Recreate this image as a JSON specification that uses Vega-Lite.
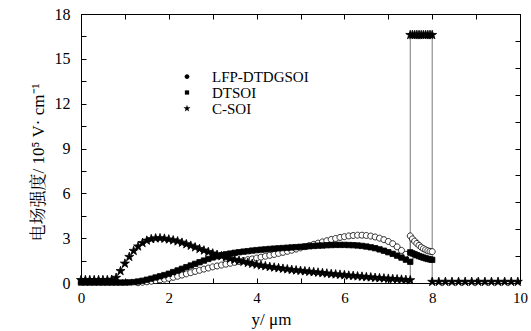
{
 "$schema": "https://vega.github.io/schema/vega-lite/v6.json",
 "width": 439, "height": 269,
 "autosize": {"type": "none"},
 "padding": {"left": 81, "top": 14, "right": 11, "bottom": 48},
 "background": "white",
 "config": {
  "font": "Liberation Serif, Times New Roman, DejaVu Serif, serif",
  "view": {"stroke": "black", "strokeWidth": 1},
  "axis": {"grid": false, "domainColor": "black", "domainWidth": 1, "tickColor": "black", "tickWidth": 1, "labelColor": "black", "titleColor": "black", "labelFont": "Liberation Serif, Times New Roman, DejaVu Serif, serif", "titleFont": "Liberation Serif, Times New Roman, Noto Serif CJK SC, Noto Sans CJK SC, serif", "titleFontWeight": "normal", "labelOverlap": false, "labelFlush": false},
  "legend": {"labelFont": "Liberation Serif, Times New Roman, DejaVu Serif, serif"}
 },
 "data": {"values": [
  {"s":"LFP-DTDGSOI","x":1.3,"y":0.02},{"s":"LFP-DTDGSOI","x":1.4,"y":0.05},{"s":"LFP-DTDGSOI","x":1.5,"y":0.08},{"s":"LFP-DTDGSOI","x":1.6,"y":0.12},{"s":"LFP-DTDGSOI","x":1.7,"y":0.16},{"s":"LFP-DTDGSOI","x":1.8,"y":0.21},{"s":"LFP-DTDGSOI","x":1.9,"y":0.26},{"s":"LFP-DTDGSOI","x":2.0,"y":0.31},{"s":"LFP-DTDGSOI","x":2.1,"y":0.38},{"s":"LFP-DTDGSOI","x":2.2,"y":0.45},{"s":"LFP-DTDGSOI","x":2.3,"y":0.53},{"s":"LFP-DTDGSOI","x":2.4,"y":0.61},{"s":"LFP-DTDGSOI","x":2.5,"y":0.69},{"s":"LFP-DTDGSOI","x":2.6,"y":0.77},{"s":"LFP-DTDGSOI","x":2.7,"y":0.85},{"s":"LFP-DTDGSOI","x":2.8,"y":0.93},{"s":"LFP-DTDGSOI","x":2.9,"y":1.0},{"s":"LFP-DTDGSOI","x":3.0,"y":1.08},{"s":"LFP-DTDGSOI","x":3.1,"y":1.14},{"s":"LFP-DTDGSOI","x":3.2,"y":1.2},{"s":"LFP-DTDGSOI","x":3.3,"y":1.26},{"s":"LFP-DTDGSOI","x":3.4,"y":1.32},{"s":"LFP-DTDGSOI","x":3.5,"y":1.38},{"s":"LFP-DTDGSOI","x":3.6,"y":1.44},{"s":"LFP-DTDGSOI","x":3.7,"y":1.5},{"s":"LFP-DTDGSOI","x":3.8,"y":1.56},{"s":"LFP-DTDGSOI","x":3.9,"y":1.61},{"s":"LFP-DTDGSOI","x":4.0,"y":1.67},{"s":"LFP-DTDGSOI","x":4.1,"y":1.73},{"s":"LFP-DTDGSOI","x":4.2,"y":1.79},{"s":"LFP-DTDGSOI","x":4.3,"y":1.85},{"s":"LFP-DTDGSOI","x":4.4,"y":1.91},{"s":"LFP-DTDGSOI","x":4.5,"y":1.98},{"s":"LFP-DTDGSOI","x":4.6,"y":2.05},{"s":"LFP-DTDGSOI","x":4.7,"y":2.12},{"s":"LFP-DTDGSOI","x":4.8,"y":2.19},{"s":"LFP-DTDGSOI","x":4.9,"y":2.27},{"s":"LFP-DTDGSOI","x":5.0,"y":2.35},{"s":"LFP-DTDGSOI","x":5.1,"y":2.43},{"s":"LFP-DTDGSOI","x":5.2,"y":2.51},{"s":"LFP-DTDGSOI","x":5.3,"y":2.59},{"s":"LFP-DTDGSOI","x":5.4,"y":2.67},{"s":"LFP-DTDGSOI","x":5.5,"y":2.75},{"s":"LFP-DTDGSOI","x":5.6,"y":2.83},{"s":"LFP-DTDGSOI","x":5.7,"y":2.91},{"s":"LFP-DTDGSOI","x":5.8,"y":2.98},{"s":"LFP-DTDGSOI","x":5.9,"y":3.05},{"s":"LFP-DTDGSOI","x":6.0,"y":3.1},{"s":"LFP-DTDGSOI","x":6.1,"y":3.15},{"s":"LFP-DTDGSOI","x":6.2,"y":3.18},{"s":"LFP-DTDGSOI","x":6.3,"y":3.2},{"s":"LFP-DTDGSOI","x":6.4,"y":3.2},{"s":"LFP-DTDGSOI","x":6.5,"y":3.18},{"s":"LFP-DTDGSOI","x":6.6,"y":3.14},{"s":"LFP-DTDGSOI","x":6.7,"y":3.08},{"s":"LFP-DTDGSOI","x":6.8,"y":3.0},{"s":"LFP-DTDGSOI","x":6.9,"y":2.9},{"s":"LFP-DTDGSOI","x":7.0,"y":2.78},{"s":"LFP-DTDGSOI","x":7.1,"y":2.63},{"s":"LFP-DTDGSOI","x":7.2,"y":2.42},{"s":"LFP-DTDGSOI","x":7.3,"y":2.18},{"s":"LFP-DTDGSOI","x":7.4,"y":1.92},{"s":"LFP-DTDGSOI","x":7.5,"y":1.7},
  {"s":"LFP-DTDGSOI","x":7.5,"y":3.15},{"s":"LFP-DTDGSOI","x":7.55,"y":2.95},{"s":"LFP-DTDGSOI","x":7.6,"y":2.8},{"s":"LFP-DTDGSOI","x":7.65,"y":2.65},{"s":"LFP-DTDGSOI","x":7.7,"y":2.52},{"s":"LFP-DTDGSOI","x":7.75,"y":2.4},{"s":"LFP-DTDGSOI","x":7.8,"y":2.3},{"s":"LFP-DTDGSOI","x":7.85,"y":2.22},{"s":"LFP-DTDGSOI","x":7.9,"y":2.16},{"s":"LFP-DTDGSOI","x":7.95,"y":2.12},{"s":"LFP-DTDGSOI","x":8.0,"y":2.1},
  {"s":"DTSOI","x":0.0,"y":0.03},{"s":"DTSOI","x":0.1,"y":0.03},{"s":"DTSOI","x":0.2,"y":0.03},{"s":"DTSOI","x":0.3,"y":0.03},{"s":"DTSOI","x":0.4,"y":0.03},{"s":"DTSOI","x":0.5,"y":0.03},{"s":"DTSOI","x":0.6,"y":0.03},{"s":"DTSOI","x":0.7,"y":0.03},{"s":"DTSOI","x":0.8,"y":0.03},{"s":"DTSOI","x":0.9,"y":0.03},{"s":"DTSOI","x":1.0,"y":0.03},{"s":"DTSOI","x":1.1,"y":0.04},
  {"s":"DTSOI","x":1.2,"y":0.06},{"s":"DTSOI","x":1.3,"y":0.1},{"s":"DTSOI","x":1.4,"y":0.15},{"s":"DTSOI","x":1.5,"y":0.22},{"s":"DTSOI","x":1.6,"y":0.29},{"s":"DTSOI","x":1.7,"y":0.37},{"s":"DTSOI","x":1.8,"y":0.45},{"s":"DTSOI","x":1.9,"y":0.53},{"s":"DTSOI","x":2.0,"y":0.62},{"s":"DTSOI","x":2.1,"y":0.73},{"s":"DTSOI","x":2.2,"y":0.84},{"s":"DTSOI","x":2.3,"y":0.95},{"s":"DTSOI","x":2.4,"y":1.06},{"s":"DTSOI","x":2.5,"y":1.17},{"s":"DTSOI","x":2.6,"y":1.28},{"s":"DTSOI","x":2.7,"y":1.39},{"s":"DTSOI","x":2.8,"y":1.5},{"s":"DTSOI","x":2.9,"y":1.61},{"s":"DTSOI","x":3.0,"y":1.71},{"s":"DTSOI","x":3.1,"y":1.79},{"s":"DTSOI","x":3.2,"y":1.86},{"s":"DTSOI","x":3.3,"y":1.92},{"s":"DTSOI","x":3.4,"y":1.97},{"s":"DTSOI","x":3.5,"y":2.02},{"s":"DTSOI","x":3.6,"y":2.06},{"s":"DTSOI","x":3.7,"y":2.1},{"s":"DTSOI","x":3.8,"y":2.13},{"s":"DTSOI","x":3.9,"y":2.17},{"s":"DTSOI","x":4.0,"y":2.2},{"s":"DTSOI","x":4.1,"y":2.23},{"s":"DTSOI","x":4.2,"y":2.25},{"s":"DTSOI","x":4.3,"y":2.28},{"s":"DTSOI","x":4.4,"y":2.3},{"s":"DTSOI","x":4.5,"y":2.32},{"s":"DTSOI","x":4.6,"y":2.34},{"s":"DTSOI","x":4.7,"y":2.36},{"s":"DTSOI","x":4.8,"y":2.38},{"s":"DTSOI","x":4.9,"y":2.4},{"s":"DTSOI","x":5.0,"y":2.42},{"s":"DTSOI","x":5.1,"y":2.44},{"s":"DTSOI","x":5.2,"y":2.46},{"s":"DTSOI","x":5.3,"y":2.48},{"s":"DTSOI","x":5.4,"y":2.5},{"s":"DTSOI","x":5.5,"y":2.51},{"s":"DTSOI","x":5.6,"y":2.53},{"s":"DTSOI","x":5.7,"y":2.54},{"s":"DTSOI","x":5.8,"y":2.55},{"s":"DTSOI","x":5.9,"y":2.55},{"s":"DTSOI","x":6.0,"y":2.55},{"s":"DTSOI","x":6.1,"y":2.54},{"s":"DTSOI","x":6.2,"y":2.53},{"s":"DTSOI","x":6.3,"y":2.51},{"s":"DTSOI","x":6.4,"y":2.48},{"s":"DTSOI","x":6.5,"y":2.44},{"s":"DTSOI","x":6.6,"y":2.39},{"s":"DTSOI","x":6.7,"y":2.33},{"s":"DTSOI","x":6.8,"y":2.25},{"s":"DTSOI","x":6.9,"y":2.16},{"s":"DTSOI","x":7.0,"y":2.06},{"s":"DTSOI","x":7.1,"y":1.95},{"s":"DTSOI","x":7.2,"y":1.83},{"s":"DTSOI","x":7.3,"y":1.7},{"s":"DTSOI","x":7.4,"y":1.56},{"s":"DTSOI","x":7.5,"y":1.42},
  {"s":"DTSOI","x":7.5,"y":2.05},{"s":"DTSOI","x":7.55,"y":1.98},{"s":"DTSOI","x":7.6,"y":1.92},{"s":"DTSOI","x":7.65,"y":1.86},{"s":"DTSOI","x":7.7,"y":1.8},{"s":"DTSOI","x":7.75,"y":1.75},{"s":"DTSOI","x":7.8,"y":1.7},{"s":"DTSOI","x":7.85,"y":1.65},{"s":"DTSOI","x":7.9,"y":1.61},{"s":"DTSOI","x":7.95,"y":1.58},{"s":"DTSOI","x":8.0,"y":1.55},
  {"s":"C-SOI","x":0.0,"y":0.2},{"s":"C-SOI","x":0.1,"y":0.2},{"s":"C-SOI","x":0.2,"y":0.2},{"s":"C-SOI","x":0.3,"y":0.2},{"s":"C-SOI","x":0.4,"y":0.2},{"s":"C-SOI","x":0.5,"y":0.2},{"s":"C-SOI","x":0.6,"y":0.2},{"s":"C-SOI","x":0.7,"y":0.22},{"s":"C-SOI","x":0.8,"y":0.35},{"s":"C-SOI","x":0.9,"y":0.8},{"s":"C-SOI","x":1.0,"y":1.3},{"s":"C-SOI","x":1.1,"y":1.75},{"s":"C-SOI","x":1.2,"y":2.15},{"s":"C-SOI","x":1.3,"y":2.45},{"s":"C-SOI","x":1.4,"y":2.68},{"s":"C-SOI","x":1.5,"y":2.84},{"s":"C-SOI","x":1.6,"y":2.94},{"s":"C-SOI","x":1.7,"y":2.99},{"s":"C-SOI","x":1.8,"y":3.0},{"s":"C-SOI","x":1.9,"y":2.97},{"s":"C-SOI","x":2.0,"y":2.92},{"s":"C-SOI","x":2.1,"y":2.86},{"s":"C-SOI","x":2.2,"y":2.79},{"s":"C-SOI","x":2.3,"y":2.7},{"s":"C-SOI","x":2.4,"y":2.6},{"s":"C-SOI","x":2.5,"y":2.5},{"s":"C-SOI","x":2.6,"y":2.39},{"s":"C-SOI","x":2.7,"y":2.28},{"s":"C-SOI","x":2.8,"y":2.18},{"s":"C-SOI","x":2.9,"y":2.08},{"s":"C-SOI","x":3.0,"y":1.98},{"s":"C-SOI","x":3.1,"y":1.89},{"s":"C-SOI","x":3.2,"y":1.8},{"s":"C-SOI","x":3.3,"y":1.71},{"s":"C-SOI","x":3.4,"y":1.63},{"s":"C-SOI","x":3.5,"y":1.56},{"s":"C-SOI","x":3.6,"y":1.49},{"s":"C-SOI","x":3.7,"y":1.42},{"s":"C-SOI","x":3.8,"y":1.35},{"s":"C-SOI","x":3.9,"y":1.29},{"s":"C-SOI","x":4.0,"y":1.23},{"s":"C-SOI","x":4.1,"y":1.18},{"s":"C-SOI","x":4.2,"y":1.13},{"s":"C-SOI","x":4.3,"y":1.08},{"s":"C-SOI","x":4.4,"y":1.04},{"s":"C-SOI","x":4.5,"y":1.0},{"s":"C-SOI","x":4.6,"y":0.96},{"s":"C-SOI","x":4.7,"y":0.92},{"s":"C-SOI","x":4.8,"y":0.88},{"s":"C-SOI","x":4.9,"y":0.85},{"s":"C-SOI","x":5.0,"y":0.82},{"s":"C-SOI","x":5.1,"y":0.79},{"s":"C-SOI","x":5.2,"y":0.76},{"s":"C-SOI","x":5.3,"y":0.73},{"s":"C-SOI","x":5.4,"y":0.7},{"s":"C-SOI","x":5.5,"y":0.67},{"s":"C-SOI","x":5.6,"y":0.64},{"s":"C-SOI","x":5.7,"y":0.61},{"s":"C-SOI","x":5.8,"y":0.58},{"s":"C-SOI","x":5.9,"y":0.56},{"s":"C-SOI","x":6.0,"y":0.53},{"s":"C-SOI","x":6.1,"y":0.5},{"s":"C-SOI","x":6.2,"y":0.48},{"s":"C-SOI","x":6.3,"y":0.45},{"s":"C-SOI","x":6.4,"y":0.43},{"s":"C-SOI","x":6.5,"y":0.4},{"s":"C-SOI","x":6.6,"y":0.38},{"s":"C-SOI","x":6.7,"y":0.35},{"s":"C-SOI","x":6.8,"y":0.33},{"s":"C-SOI","x":6.9,"y":0.31},{"s":"C-SOI","x":7.0,"y":0.29},{"s":"C-SOI","x":7.1,"y":0.27},{"s":"C-SOI","x":7.2,"y":0.25},{"s":"C-SOI","x":7.3,"y":0.23},{"s":"C-SOI","x":7.4,"y":0.21},{"s":"C-SOI","x":7.5,"y":0.19},
  {"s":"C-SOI","x":7.5,"y":16.6},{"s":"C-SOI","x":7.55,"y":16.6},{"s":"C-SOI","x":7.6,"y":16.6},{"s":"C-SOI","x":7.65,"y":16.6},{"s":"C-SOI","x":7.7,"y":16.6},{"s":"C-SOI","x":7.75,"y":16.6},{"s":"C-SOI","x":7.8,"y":16.6},{"s":"C-SOI","x":7.85,"y":16.6},{"s":"C-SOI","x":7.9,"y":16.6},{"s":"C-SOI","x":7.95,"y":16.6},{"s":"C-SOI","x":8.0,"y":16.6},
  {"s":"C-SOI","x":8.0,"y":0.08},{"s":"C-SOI","x":8.15,"y":0.08},{"s":"C-SOI","x":8.3,"y":0.08},{"s":"C-SOI","x":8.45,"y":0.08},{"s":"C-SOI","x":8.6,"y":0.08},{"s":"C-SOI","x":8.75,"y":0.08},{"s":"C-SOI","x":8.9,"y":0.08},{"s":"C-SOI","x":9.05,"y":0.08},{"s":"C-SOI","x":9.2,"y":0.08},{"s":"C-SOI","x":9.35,"y":0.08},{"s":"C-SOI","x":9.5,"y":0.08},{"s":"C-SOI","x":9.65,"y":0.08},{"s":"C-SOI","x":9.8,"y":0.08},{"s":"C-SOI","x":9.95,"y":0.08}
 ]},
 "transform": [{"window": [{"op": "row_number", "as": "i"}]}],
 "layer": [
  {
   "mark": {"type": "line", "stroke": "#555", "strokeWidth": 0.8},
   "encoding": {
    "x": {"field": "x", "type": "quantitative", "scale": {"domain": [0, 10], "nice": false, "zero": false},
      "axis": {"orient": "bottom", "values": [0,1,2,3,4,5,6,7,8,9,10], "labelExpr": "datum.value % 2 === 0 ? datum.label : ''", "tickSize": -5, "labelPadding": 12, "labelFontSize": 15, "title": "y/ μm", "titleFontSize": 17, "titleX": 190, "titleY": 36, "titleBaseline": "middle", "titleAlign": "center"}},
    "y": {"field": "y", "type": "quantitative", "scale": {"domain": [0, 18], "nice": false},
      "axis": {"orient": "left", "values": [0,1.5,3,4.5,6,7.5,9,10.5,12,13.5,15,16.5,18], "labelExpr": "datum.value % 3 === 0 ? datum.label : ''", "tickSize": -5, "labelPadding": 16, "labelFontSize": 16, "title": "电场强度/ 10⁵ V· cm⁻¹", "titleFontSize": 17, "titleX": -43, "titleY": 148, "titleBaseline": "middle", "titleAlign": "center"}},
    "detail": {"field": "s"},
    "order": {"field": "i", "type": "quantitative"}
   }
  },
  {
   "mark": {"type": "point", "filled": true, "size": 40, "stroke": "black", "strokeWidth": 0.8, "opacity": 1},
   "encoding": {
    "x": {"field": "x", "type": "quantitative",
      "axis": {"orient": "top", "values": [0,1,2,3,4,5,6,7,8,9,10], "labels": false, "tickSize": -5, "title": null}},
    "y": {"field": "y", "type": "quantitative",
      "axis": {"orient": "right", "values": [0,1.8,3.6,5.4,7.2,9,10.8,12.6,14.4,16.2,18], "labels": false, "tickSize": -5, "title": null}},
    "shape": {"field": "s", "type": "nominal",
      "scale": {"domain": ["LFP-DTDGSOI", "DTSOI", "C-SOI"], "range": ["M0.95,0A0.95,0.95,0,1,1,-0.95,0A0.95,0.95,0,1,1,0.95,0Z", "M-0.85,-0.85H0.85V0.85H-0.85Z", "M0,-1.5L0.338,-0.464L1.427,-0.464L0.544,0.177L0.882,1.214L0,0.573L-0.882,1.214L-0.544,0.177L-1.427,-0.464L-0.338,-0.464Z"]},
      "legend": {"orient": "none", "legendX": 98.5, "legendY": 55, "title": null, "padding": 0, "symbolSize": 25, "labelOffset": 17.5, "labelFontSize": 15, "labelColor": "black", "rowPadding": -4, "symbolStrokeColor": "#222", "symbolStrokeWidth": 0.8, "symbolOpacity": 1,
        "encode": {"symbols": {
          "shape": {"condition": [{"test": "datum.value === 'LFP-DTDGSOI'", "value": "M-5.8,0H-1M1,0H5.8M1,0A1,1,0,1,1,-1,0A1,1,0,1,1,1,0Z"}, {"test": "datum.value === 'DTSOI'", "value": "M-5.8,0H5.8M-0.9,-0.9H0.9V0.9H-0.9Z"}], "value": "M-5.8,0H5.8M0,-1.4L0.315,-0.433L1.331,-0.433L0.508,0.165L0.823,1.133L0,0.535L-0.823,1.133L-0.508,0.165L-1.331,-0.433L-0.315,-0.433Z"},
          "fill": {"condition": {"test": "datum.value === 'LFP-DTDGSOI'", "value": "white"}, "value": "black"},
          "stroke": {"value": "#222"},
          "strokeWidth": {"value": 0.8}}}}},
    "fill": {"condition": {"test": "datum.s === 'LFP-DTDGSOI'", "value": "white"}, "value": "black"}
   }
  }
 ],
 "resolve": {"axis": {"x": "independent", "y": "independent"}}
}
